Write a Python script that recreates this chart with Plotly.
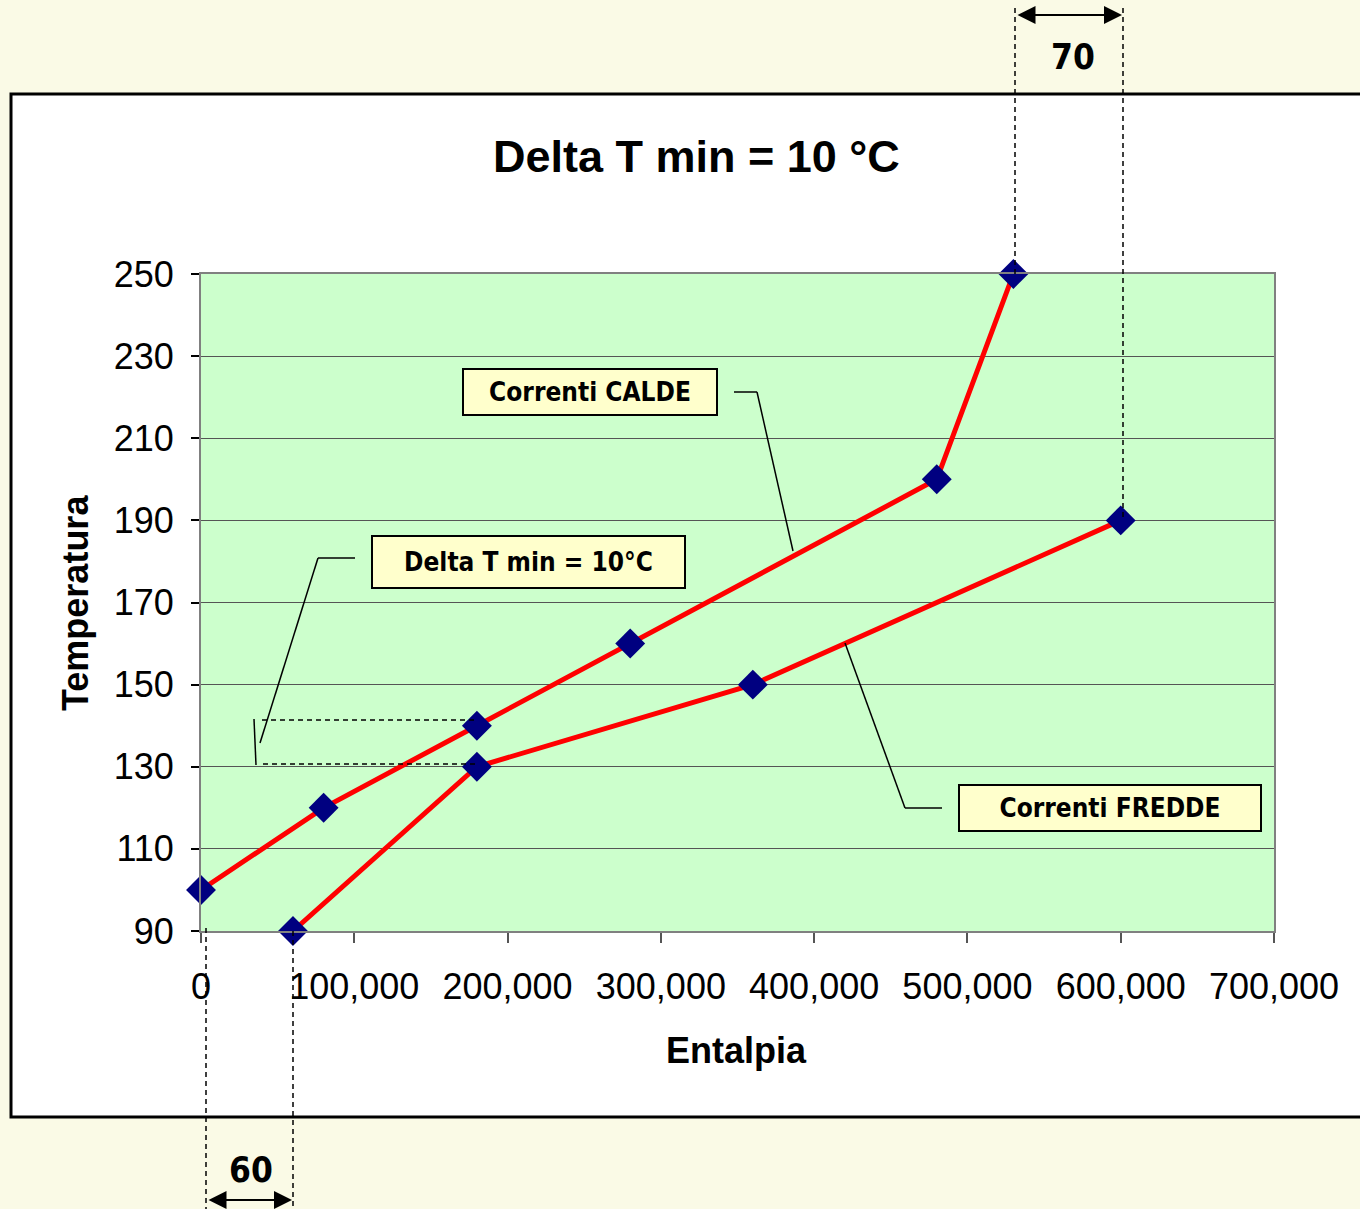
import plotly.graph_objects as go

# ---------------- data ----------------
hot_H = [0, 80000, 180000, 280000, 480000, 530000]
hot_T = [100, 120, 140, 160, 200, 250]
cold_H = [60000, 180000, 360000, 600000]
cold_T = [90, 130, 150, 190]
y_ticks = [90, 110, 130, 150, 170, 190, 210, 230, 250]
x_ticks = [0, 100000, 200000, 300000, 400000, 500000, 600000, 700000]

title_text = "Delta T min = 10 °C"
x_title = "Entalpia"
y_title = "Temperatura"
label_hot = "Correnti CALDE"
label_cold = "Correnti FREDDE"
label_dt = "Delta T min = 10°C"
gap_top = "70"
gap_bottom = "60"

# ---------------- layout helpers ----------------
W, H = 1360, 1209
L, R, T, B = 201, 1274, 274, 931


def px(x):
    return (x - L) / (R - L)


def py(y):
    return (B - y) / (B - T)


ARIAL = "Liberation Sans, Arial, sans-serif"
BOXF = "DejaVu Sans Condensed, DejaVu Sans, sans-serif"
BG = "#FAFAE6"

fig = go.Figure()

for xs, ys in ((hot_H, hot_T), (cold_H, cold_T)):
    fig.add_trace(go.Scatter(
        x=xs, y=ys, mode="lines+markers",
        line=dict(color="#FF0000", width=5),
        marker=dict(symbol="diamond", size=23, color="#000080"),
        showlegend=False, cliponaxis=False,
    ))

shapes = []
# white chart box
shapes.append(dict(type="rect", xref="paper", yref="paper", layer="below",
                   x0=px(11), x1=px(1370), y0=py(1117), y1=py(94),
                   fillcolor="white", line=dict(color="black", width=3)))
# green plot area
shapes.append(dict(type="rect", xref="paper", yref="paper", layer="below",
                   x0=0, x1=1, y0=0, y1=1,
                   fillcolor="#CCFFCC", line=dict(width=0)))


def seg(x0, y0, x1, y1, dash=None, width=1.5):
    d = dict(type="line", xref="paper", yref="paper",
             x0=px(x0), y0=py(y0), x1=px(x1), y1=py(y1),
             line=dict(color="black", width=width))
    if dash:
        d["line"]["dash"] = dash
    shapes.append(d)


DASH = "5px,4px"
# 70 gap dashed verticals
seg(1015, 8, 1015, 274, DASH)
seg(1123, 8, 1123, 520, DASH)
# 60 gap dashed verticals
seg(206, 928, 206, 1209, DASH)
seg(293, 931, 293, 1209, DASH)
# delta T bracket
seg(262, 720, 478, 720, DASH)
seg(263, 764, 478, 764, DASH)
seg(254, 719, 256, 765)
# callout leaders
seg(355, 558, 318, 558)
seg(318, 558, 260, 743)
seg(734, 392, 757, 392)
seg(757, 392, 793, 551)
seg(942, 808, 905, 808)
seg(905, 808, 845, 643)

annotations = []


def text(t, cx, cy, size, family=ARIAL, angle=0):
    annotations.append(dict(text=t, xref="paper", yref="paper",
                            x=px(cx), y=py(cy), xanchor="center", yanchor="middle",
                            showarrow=False, textangle=angle,
                            font=dict(family=family, size=size, color="black")))


text(f"<b>{title_text}</b>", 696, 157, 45)
text(f"<b>{x_title}</b>", 736, 1050, 36)
text(f"<b>{y_title}</b>", 75, 603, 36, angle=-90)


def box(t, cx, cy, w, h):
    annotations.append(dict(text=f"<b>{t}</b>", xref="paper", yref="paper",
                            x=px(cx), y=py(cy), xanchor="center", yanchor="middle",
                            showarrow=False,
                            width=w, height=h, borderpad=0,
                            bgcolor="#FFFFCC", bordercolor="black", borderwidth=2,
                            font=dict(family=BOXF, size=26, color="black")))


box(label_hot, 590, 392, 252, 44)
box(label_dt, 528, 562, 311, 50)
box(label_cold, 1110, 808, 300, 44)

# gap numbers
text(f"<b>{gap_top}</b>", 1073, 57, 35, family=BOXF)
text(f"<b>{gap_bottom}</b>", 251, 1170, 35, family=BOXF)


def dbl_arrow(xa, xb, y):
    annotations.append(dict(text="", xref="paper", yref="paper",
                            x=px(xb), y=py(y), ax=xa - xb, ay=0,
                            axref="pixel", ayref="pixel",
                            showarrow=True, arrowhead=2, arrowside="end+start",
                            arrowsize=1.8, arrowwidth=2, arrowcolor="black",
                            standoff=0, startstandoff=0))


dbl_arrow(1016, 1122, 15)
dbl_arrow(207, 292, 1200)

fig.update_layout(
    width=W, height=H,
    margin=dict(l=L, r=W - R, t=T, b=H - B, pad=0),
    paper_bgcolor=BG, plot_bgcolor="rgba(0,0,0,0)",
    shapes=shapes, annotations=annotations, showlegend=False,
    font=dict(family=ARIAL, color="black"),
)
fig.update_xaxes(
    range=[0, 700000], tickvals=x_ticks, tickformat=",d",
    showgrid=False, zeroline=False,
    showline=True, linecolor="#808080", linewidth=2, mirror=True,
    ticks="outside", ticklen=10, tickcolor="#555555", tickwidth=1.5,
    ticklabelstandoff=13,
    tickfont=dict(family=ARIAL, size=36, color="black"),
)
fig.update_yaxes(
    range=[90, 250], tickvals=y_ticks,
    showgrid=True, gridcolor="#555555", gridwidth=1, zeroline=False,
    showline=True, linecolor="#808080", linewidth=2, mirror=True,
    ticks="outside", ticklen=8, tickcolor="black", tickwidth=1.5,
    ticklabelstandoff=10,
    tickfont=dict(family=ARIAL, size=36, color="black"),
)

fig.write_html("out.html",
               config={"displayModeBar": False},
               post_script="document.body.style.margin='0';"
                           "document.body.style.background='" + BG + "';")
